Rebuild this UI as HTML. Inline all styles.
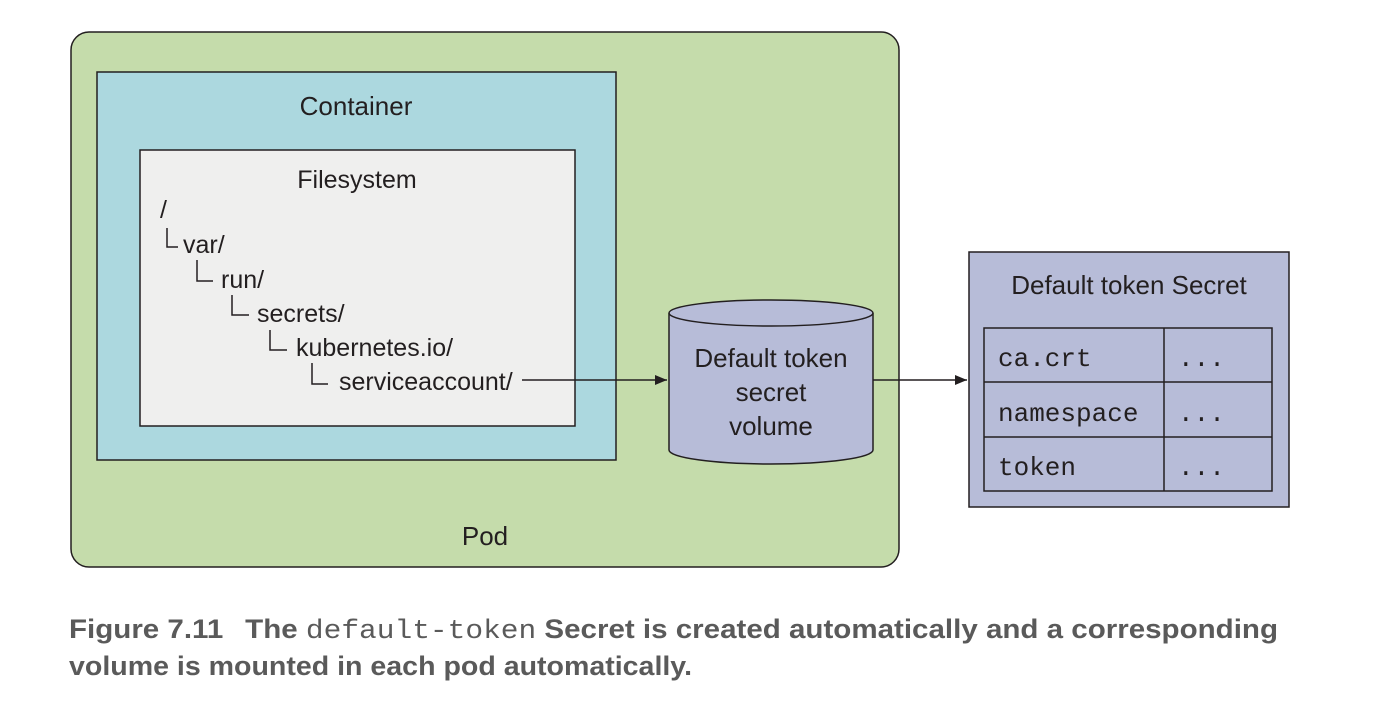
<!DOCTYPE html>
<html><head><meta charset="utf-8"><style>
html,body{margin:0;padding:0;background:#fff;}
svg{display:block;}
text{font-family:"Liberation Sans",sans-serif;fill:#231f20;}
.m{font-family:"Liberation Mono",monospace;}
.cap{font-family:"Liberation Sans Narrow","Liberation Sans",sans-serif;font-weight:bold;fill:#5a5a5a;font-size:27px;}
</style></head><body>
<svg width="1382" height="716" viewBox="0 0 1382 716">
<defs><marker id="a" markerWidth="12" markerHeight="10" refX="12" refY="5" orient="auto" markerUnits="userSpaceOnUse"><path d="M0,0 L12,5 L0,10 z" fill="#231f20"/></marker></defs>
<rect x="71" y="32" width="828" height="535" rx="18" fill="#c5dcab" stroke="#231f20" stroke-width="1.5"/>
<rect x="97" y="72" width="519" height="388" fill="#acd8df" stroke="#231f20" stroke-width="1.5"/>
<text x="356" y="115" font-size="26" text-anchor="middle">Container</text>
<rect x="140" y="150" width="435" height="276" fill="#efefee" stroke="#231f20" stroke-width="1.5"/>
<text x="357" y="188" font-size="25" text-anchor="middle">Filesystem</text>
<g font-size="25">
<text x="160" y="218">/</text>
<text x="183" y="253">var/</text>
<text x="221" y="288">run/</text>
<text x="257" y="322">secrets/</text>
<text x="296" y="356">kubernetes.io/</text>
<text x="339" y="390">serviceaccount/</text>
</g>
<g stroke="#231f20" stroke-width="1.5" fill="none">
<path d="M167,228 V247 H178"/>
<path d="M197,260 V281 H213"/>
<path d="M232,295 V315 H249"/>
<path d="M270,330 V350 H287"/>
<path d="M312,363 V384 H328"/>
<path d="M522,380 H667" marker-end="url(#a)"/>
<path d="M873,380 H967" marker-end="url(#a)"/>
</g>
<path d="M669,313 V450 A102,14 0 0 0 873,450 V313" fill="#b7bcd8" stroke="#231f20" stroke-width="1.5"/>
<ellipse cx="771" cy="313" rx="102" ry="13" fill="#b7bcd8" stroke="#231f20" stroke-width="1.5"/>
<g font-size="26" text-anchor="middle">
<text x="771" y="367">Default token</text>
<text x="771" y="401">secret</text>
<text x="771" y="435">volume</text>
</g>
<rect x="969" y="252" width="320" height="255" fill="#b7bcd8" stroke="#231f20" stroke-width="1.5"/>
<text x="1129" y="294" font-size="26" text-anchor="middle">Default token Secret</text>
<g stroke="#231f20" stroke-width="1.5" fill="none">
<rect x="984" y="328" width="288" height="163"/>
<line x1="984" y1="382" x2="1272" y2="382"/>
<line x1="984" y1="437" x2="1272" y2="437"/>
<line x1="1164" y1="328" x2="1164" y2="491"/>
</g>
<g font-size="26">
<text class="m" x="998" y="366">ca.crt</text>
<text class="m" x="998" y="421">namespace</text>
<text class="m" x="998" y="475">token</text>
<text class="m" x="1178" y="366">...</text>
<text class="m" x="1178" y="421">...</text>
<text class="m" x="1178" y="475">...</text>
</g>
<text x="485" y="545" font-size="26" text-anchor="middle">Pod</text>
<text class="cap" x="69" y="638" textLength="1209" lengthAdjust="spacingAndGlyphs">Figure 7.11<tspan dx="20">The </tspan><tspan font-family="Liberation Mono" font-weight="normal">default-token</tspan> Secret is created automatically and a corresponding</text>
<text class="cap" x="69" y="675" textLength="623" lengthAdjust="spacingAndGlyphs">volume is mounted in each pod automatically.</text>
</svg>
</body></html>
